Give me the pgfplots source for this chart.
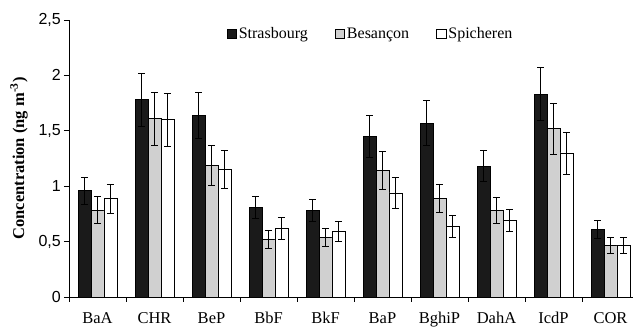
\documentclass[border=0pt]{standalone}
\usepackage{pgfplots}
\pgfplotsset{compat=1.18}
\usepackage{pgfplotstable}
\usepackage{fontspec}
\setmainfont{Liberation Serif}
\setsansfont{Liberation Sans}
\definecolor{barblack}{HTML}{1A1A1A}
\definecolor{bargray}{HTML}{D0D0D0}

\pgfplotstableread{
x y e
0 0.96 0.12
1 1.78 0.24
2 1.64 0.21
3 0.81 0.10
4 0.78 0.10
5 1.45 0.19
6 1.57 0.20
7 1.18 0.14
8 1.83 0.24
9 0.61 0.08
}\strasbourg
\pgfplotstableread{
x y e
0 0.785 0.12
1 1.61 0.24
2 1.19 0.18
3 0.52 0.08
4 0.54 0.08
5 1.14 0.17
6 0.89 0.13
7 0.78 0.12
8 1.52 0.23
9 0.467 0.07
}\besancon
\pgfplotstableread{
x y e
0 0.887 0.13
1 1.60 0.24
2 1.15 0.17
3 0.62 0.10
4 0.59 0.09
5 0.94 0.14
6 0.64 0.10
7 0.69 0.10
8 1.30 0.19
9 0.467 0.07
}\spicheren

\begin{document}
\begin{tikzpicture}
\begin{axis}[
  scale only axis,
  width=564pt, height=277pt,
  xmin=-0.5, xmax=9.395,
  ymin=0, ymax=2.5,
  axis lines*=left,
  axis line style={black, line width=0.8pt},
  ybar=0pt,
  bar width=12.9pt,
  xtick={0,...,9},
  xticklabels={BaA,CHR,BeP,BbF,BkF,BaP,BghiP,DahA,IcdP,COR},
  major x tick style={draw=none},
  minor xtick={-0.5,0.5,...,8.5},
  minor x tick style={black, line width=0.8pt},
  minor tick length=5pt,
  ytick={0,0.5,...,2.5},
  major tick length=5pt,
  tick align=outside,
  y tick style={black, line width=0.8pt},
  /pgf/number format/.cd, use comma, assume math mode=true,
  /pgfplots/.cd,
  yticklabel style={font=\fontsize{16}{16}\sffamily, inner sep=3pt},
  xticklabel style={font=\fontsize{16.5}{16.5}\selectfont, yshift=-7pt},
  ylabel={\textbf{Concentration (ng m\textsuperscript{-3})}},
  ylabel style={font=\fontsize{16.5}{16.5}\selectfont, at={(axis description cs:-0.0887,0.5)}, anchor=center},
  legend columns=3,
  legend style={draw=none, fill=none, font=\fontsize{16}{16}\selectfont,
    at={(rel axis cs:0.279,0.95)}, anchor=west, inner sep=0pt,
    /tikz/every even column/.append style={column sep=25pt}},
  legend image code/.code={\draw[#1, draw=black, line width=0.6pt] (0pt,-4.8pt) rectangle (9.6pt,4.8pt);},
  error bars/y dir=both,
  error bars/y explicit,
  error bars/error bar style={black, line width=0.8pt},
  error bars/error mark options={rotate=90, mark size=3.5pt, black, line width=0.8pt},
]
\addplot[fill=barblack, draw=black, line width=0.6pt] table[x=x, y=y, y error=e] {\strasbourg};
\addlegendentry{Strasbourg}
\addplot[fill=bargray, draw=black, line width=0.6pt] table[x=x, y=y, y error=e] {\besancon};
\addlegendentry{Besançon}
\addplot[fill=white, draw=black, line width=0.6pt] table[x=x, y=y, y error=e] {\spicheren};
\addlegendentry{Spicheren}
\end{axis}
\pgfresetboundingbox
\useasboundingbox (-69pt,-31pt) rectangle (564pt,297pt);
\end{tikzpicture}
\end{document}
